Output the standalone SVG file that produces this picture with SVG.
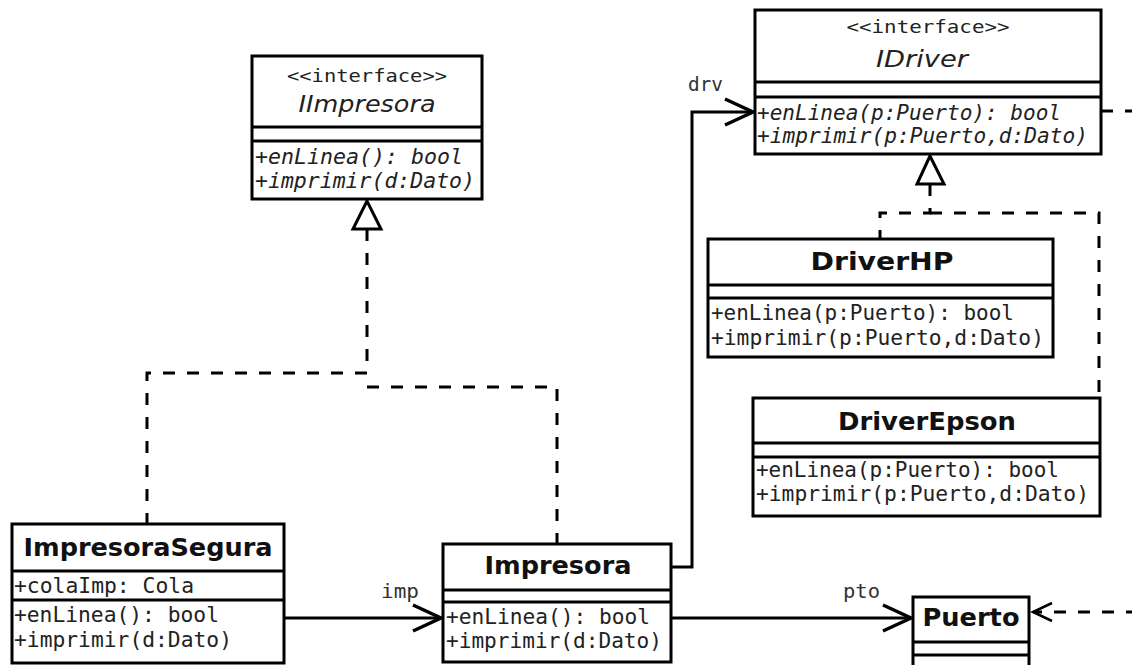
<svg xmlns="http://www.w3.org/2000/svg" width="1132" height="665" viewBox="0 0 1132 665">
<style>
.box{fill:#fff;stroke:#000;stroke-width:3}
.sep{stroke:#000;stroke-width:3}
.title{font-family:"DejaVu Sans","Liberation Sans",sans-serif;font-weight:bold;font-size:25px;text-anchor:middle;fill:#111}
.ititle{font-family:"DejaVu Sans","Liberation Sans",sans-serif;font-style:italic;font-size:23px;text-anchor:middle;fill:#222}
.stereo{font-family:"DejaVu Sans Mono","Liberation Mono",monospace;font-size:17px;text-anchor:middle;fill:#222}
.mono{font-family:"DejaVu Sans Mono","Liberation Mono",monospace;font-size:20.5px;fill:#222}
.it{font-style:italic}
.lbl{font-family:"DejaVu Sans Mono","Liberation Mono",monospace;font-size:19px;fill:#333}
.conn{fill:none;stroke:#000;stroke-width:3}
.dash{stroke-dasharray:12 12}
.tri{fill:#fff;stroke:#000;stroke-width:3}
</style>
<defs>
<marker id="open" markerUnits="userSpaceOnUse" markerWidth="34" markerHeight="32" refX="29" refY="14" orient="auto" overflow="visible">
<path d="M1,1 L29,14 L1,27" fill="none" stroke="#000" stroke-width="3.5"/>
</marker>
<marker id="openSmall" markerUnits="userSpaceOnUse" markerWidth="24" markerHeight="22" refX="20" refY="10" orient="auto" overflow="visible">
<path d="M1,1 L20,10 L1,19" fill="none" stroke="#000" stroke-width="2.5"/>
</marker>
</defs>

<g id="connectors">
<path class="conn" d="M671,567 H692 V112 H753" marker-end="url(#open)"/>
<path class="conn" d="M284,618 H441" marker-end="url(#open)"/>
<path class="conn" d="M671,618 H911" marker-end="url(#open)"/>
<path class="conn dash" d="M1101,111 H1145 V612 H1033" marker-end="url(#openSmall)"/>
<path class="conn dash" d="M367,229 V373 H147 V524"/>
<path class="conn dash" d="M367,387 H557 V544"/>
<path class="conn dash" d="M930,184 V213 H880 V239"/>
<path class="conn dash" d="M930,213 H1099 V398"/>
<polygon class="tri" points="367,201 353,229 381,229"/>
<polygon class="tri" points="930,156 917,184 944,184"/>
<text class="lbl" x="688" y="91" textLength="35" lengthAdjust="spacingAndGlyphs">drv</text>
<text class="lbl" x="381" y="598" textLength="38" lengthAdjust="spacingAndGlyphs">imp</text>
<text class="lbl" x="843" y="598" textLength="37" lengthAdjust="spacingAndGlyphs">pto</text>
</g>

<g id="IImpresora">
<rect class="box" x="252" y="56" width="230" height="143"/>
<line class="sep" x1="252" y1="127" x2="482" y2="127"/>
<line class="sep" x1="252" y1="141" x2="482" y2="141"/>
<text class="stereo" x="367" y="82" textLength="160" lengthAdjust="spacingAndGlyphs">&lt;&lt;interface&gt;&gt;</text>
<text class="ititle" x="367" y="112" textLength="137" lengthAdjust="spacingAndGlyphs">IImpresora</text>
<text class="mono it" x="255" y="164" textLength="208" lengthAdjust="spacingAndGlyphs">+enLinea(): bool</text>
<text class="mono it" x="255" y="188" textLength="220" lengthAdjust="spacingAndGlyphs">+imprimir(d:Dato)</text>
</g>

<g id="IDriver">
<rect class="box" x="755" y="10" width="346" height="144"/>
<line class="sep" x1="755" y1="82" x2="1101" y2="82"/>
<line class="sep" x1="755" y1="97" x2="1101" y2="97"/>
<text class="stereo" x="928" y="33" textLength="163" lengthAdjust="spacingAndGlyphs">&lt;&lt;interface&gt;&gt;</text>
<text class="ititle" x="922" y="67" textLength="92" lengthAdjust="spacingAndGlyphs">IDriver</text>
<text class="mono it" x="757" y="120" textLength="304" lengthAdjust="spacingAndGlyphs">+enLinea(p:Puerto): bool</text>
<text class="mono it" x="757" y="143" textLength="331" lengthAdjust="spacingAndGlyphs">+imprimir(p:Puerto,d:Dato)</text>
</g>

<g id="DriverHP">
<rect class="box" x="708" y="239" width="345" height="118"/>
<line class="sep" x1="708" y1="285" x2="1053" y2="285"/>
<line class="sep" x1="708" y1="298" x2="1053" y2="298"/>
<text class="title" x="882" y="270" textLength="143" lengthAdjust="spacingAndGlyphs">DriverHP</text>
<text class="mono" x="711" y="320" textLength="303" lengthAdjust="spacingAndGlyphs">+enLinea(p:Puerto): bool</text>
<text class="mono" x="711" y="345" textLength="333" lengthAdjust="spacingAndGlyphs">+imprimir(p:Puerto,d:Dato)</text>
</g>

<g id="DriverEpson">
<rect class="box" x="753" y="398" width="347" height="118"/>
<line class="sep" x1="753" y1="443" x2="1100" y2="443"/>
<line class="sep" x1="753" y1="457" x2="1100" y2="457"/>
<text class="title" x="927" y="430" textLength="178" lengthAdjust="spacingAndGlyphs">DriverEpson</text>
<text class="mono" x="756" y="477" textLength="303" lengthAdjust="spacingAndGlyphs">+enLinea(p:Puerto): bool</text>
<text class="mono" x="756" y="501" textLength="333" lengthAdjust="spacingAndGlyphs">+imprimir(p:Puerto,d:Dato)</text>
</g>

<g id="ImpresoraSegura">
<rect class="box" x="12" y="524" width="272" height="139"/>
<line class="sep" x1="12" y1="571" x2="284" y2="571"/>
<line class="sep" x1="12" y1="600" x2="284" y2="600"/>
<text class="title" x="148" y="556" textLength="249" lengthAdjust="spacingAndGlyphs">ImpresoraSegura</text>
<text class="mono" x="14" y="593" textLength="180" lengthAdjust="spacingAndGlyphs">+colaImp: Cola</text>
<text class="mono" x="14" y="622" textLength="205" lengthAdjust="spacingAndGlyphs">+enLinea(): bool</text>
<text class="mono" x="14" y="647" textLength="218" lengthAdjust="spacingAndGlyphs">+imprimir(d:Dato)</text>
</g>

<g id="Impresora">
<rect class="box" x="443" y="544" width="228" height="118"/>
<line class="sep" x1="443" y1="590" x2="671" y2="590"/>
<line class="sep" x1="443" y1="602" x2="671" y2="602"/>
<text class="title" x="558" y="574" textLength="147" lengthAdjust="spacingAndGlyphs">Impresora</text>
<text class="mono" x="446" y="624" textLength="204" lengthAdjust="spacingAndGlyphs">+enLinea(): bool</text>
<text class="mono" x="446" y="648" textLength="216" lengthAdjust="spacingAndGlyphs">+imprimir(d:Dato)</text>
</g>

<g id="Puerto">
<rect class="box" x="913" y="597" width="116" height="80"/>
<line class="sep" x1="913" y1="642" x2="1029" y2="642"/>
<line class="sep" x1="913" y1="655" x2="1029" y2="655"/>
<text class="title" x="971" y="626" textLength="97" lengthAdjust="spacingAndGlyphs">Puerto</text>
</g>
</svg>
